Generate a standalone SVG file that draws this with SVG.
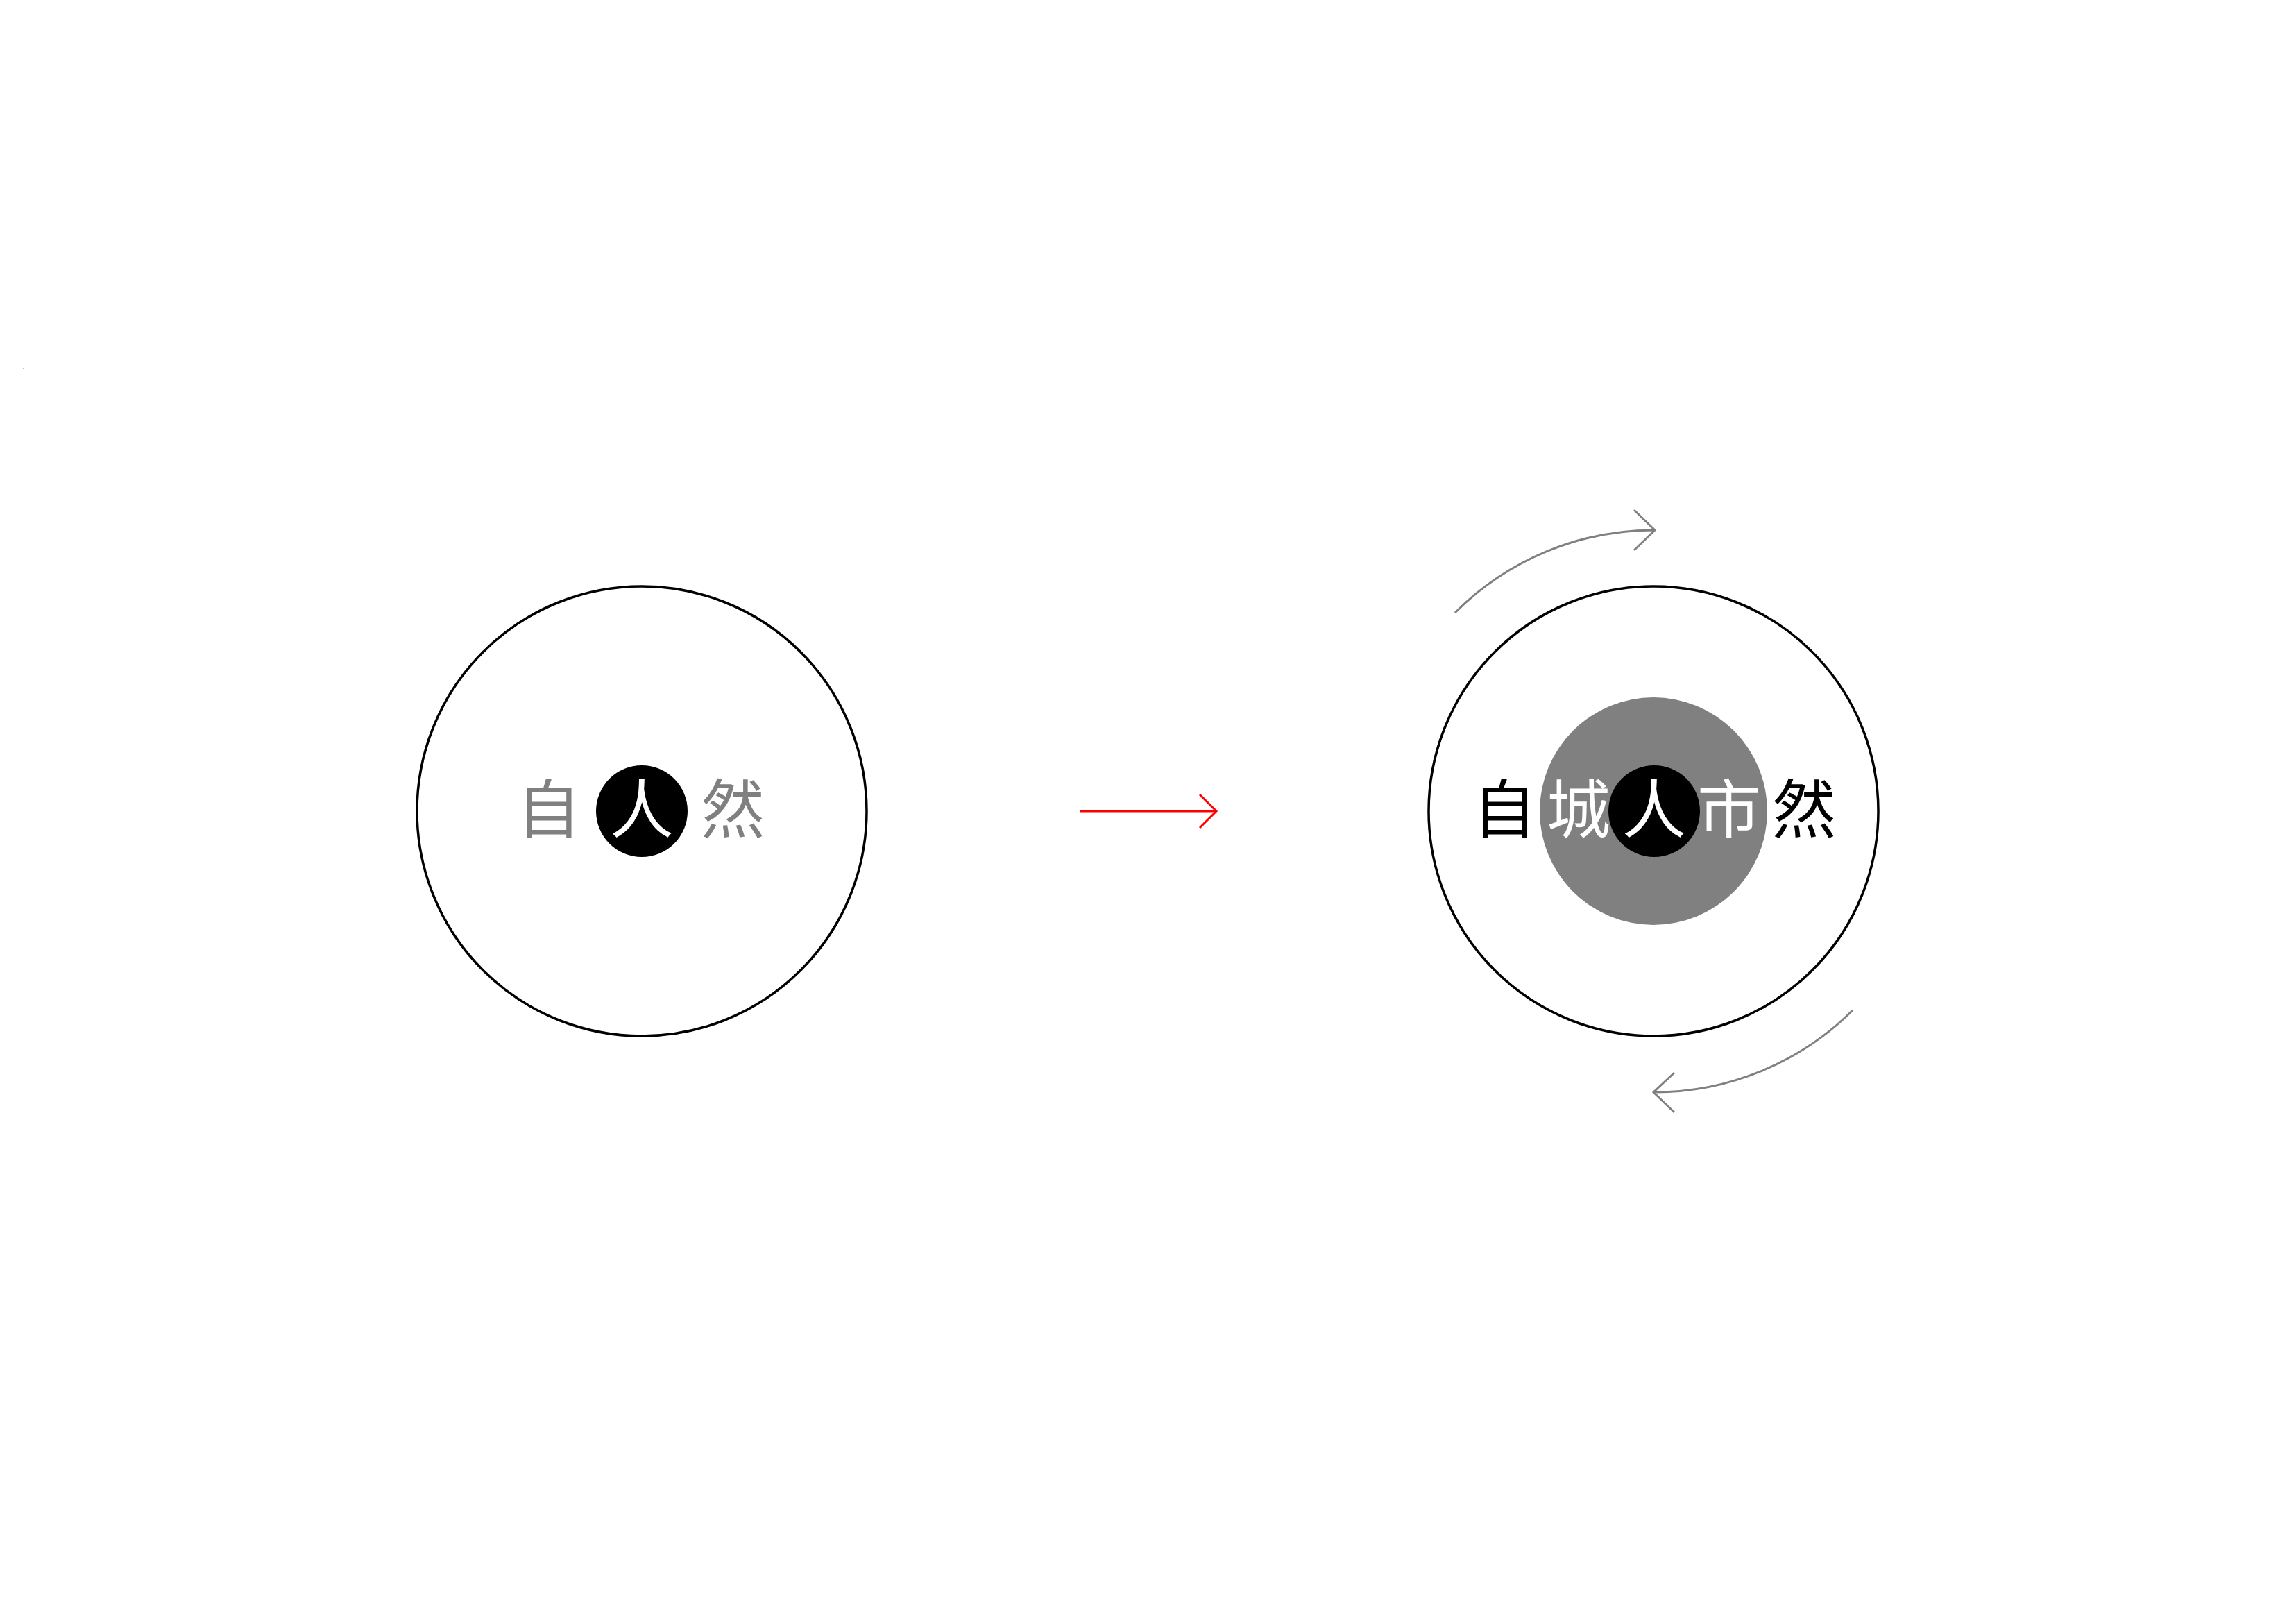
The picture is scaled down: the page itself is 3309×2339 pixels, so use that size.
<svg xmlns="http://www.w3.org/2000/svg" width="3309" height="2339" viewBox="0 0 3309 2339">
<style>
.bg{fill:#ffffff}
.ring{fill:none;stroke:#000000;stroke-width:3.5}
.core{fill:#000000}
.city{fill:#808080}
.t{font-family:"Noto Sans CJK SC","Noto Sans CJK JP",sans-serif;font-size:92px;text-anchor:middle}
.gray{fill:#808080}
.white{fill:#ffffff}
.black{fill:#000000}
.red{fill:none;stroke:#ff0000;stroke-width:3}
.cyc{fill:none;stroke:#808080;stroke-width:3}
</style>
<rect class="bg" x="0" y="0" width="3309" height="2339"/>
<rect x="33" y="530" width="2" height="2" fill="#bbbbbb"/>
<g id="node-left">
<circle class="ring" cx="925" cy="1169" r="324"/>
<circle class="core" cx="925" cy="1169" r="66"/>
<text class="t gray" x="791" y="1200">自</text>
<text class="t white" x="925" y="1200">人</text>
<text class="t gray" x="1056" y="1200">然</text>
</g>
<g id="node-right">
<circle class="ring" cx="2383" cy="1169" r="324"/>
<circle class="city" cx="2383" cy="1169" r="164"/>
<circle class="core" cx="2384" cy="1169" r="66"/>
<text class="t black" x="2168" y="1200">自</text>
<text class="t white" x="2275" y="1200">城</text>
<text class="t white" x="2384" y="1200">人</text>
<text class="t white" x="2492" y="1200">市</text>
<text class="t black" x="2600" y="1200">然</text>
</g>
<g id="connectors">
<path class="red" d="M1556,1169 H1753 M1729,1145 L1753,1169 L1729,1193"/>
<path class="cyc" d="M2097,883 A405,405 0 0 1 2385,764 M2355,735 L2385,764 L2355,793"/>
<path class="cyc" d="M2670,1456 A405,405 0 0 1 2383,1574 M2413,1546 L2383,1574 L2413,1603"/>
</g>
</svg>
